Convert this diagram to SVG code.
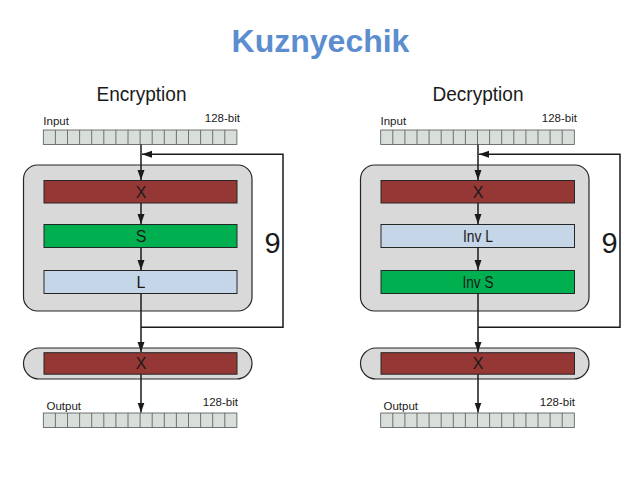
<svg xmlns="http://www.w3.org/2000/svg" xmlns:xlink="http://www.w3.org/1999/xlink" width="638" height="479" viewBox="0 0 638 479">
<style>
.t{font-family:"Liberation Sans",Arial,sans-serif;fill:#1a1a1a}
.title{font-family:"Liberation Sans",Arial,sans-serif;font-weight:bold;font-size:32px;fill:#5B8DCF}
.head{font-size:20px}
.small{font-size:11.5px}
.lbl{font-size:16px;text-anchor:middle}
.nine{font-size:29px;text-anchor:middle}
.outer{fill:#D9D9D9;stroke:#262626;stroke-width:1.2}
.xr{fill:#953735;stroke:#262626;stroke-width:1}
.sg{fill:#00B050;stroke:#262626;stroke-width:1}
.lb{fill:#C6D6E9;stroke:#262626;stroke-width:1}
.bar{fill:#D8DED9;stroke:#555;stroke-width:0.8}
.cell{fill:none;stroke:#555;stroke-width:0.8}
.c{fill:none;stroke:#1a1a1a;stroke-width:1.5}
</style>
<defs>
<marker id="ah" markerUnits="userSpaceOnUse" markerWidth="11" markerHeight="8" refX="10" refY="3.5" orient="auto">
<path d="M0,0 L10,3.5 L0,7 z" fill="#1a1a1a"/>
</marker>
<g id="bar">
<rect class="bar" x="0" y="0" width="193.6" height="14.5"/>
<path class="cell" d="M12.1,0v14.5M24.2,0v14.5M36.3,0v14.5M48.4,0v14.5M60.5,0v14.5M72.6,0v14.5M84.7,0v14.5M96.8,0v14.5M108.9,0v14.5M121,0v14.5M133.1,0v14.5M145.2,0v14.5M157.3,0v14.5M169.4,0v14.5M181.5,0v14.5"/>
</g>
</defs>
<text class="title" x="320.5" y="51.5" text-anchor="middle">Kuznyechik</text>

<g id="encryption">
<text class="t head" x="141.5" y="101" text-anchor="middle" textLength="90" lengthAdjust="spacingAndGlyphs">Encryption</text>
<g id="enc-input">
<text class="t small" x="43.3" y="125">Input</text>
<text class="t small" x="240" y="122" text-anchor="end">128-bit</text>
<use xlink:href="#bar" x="43.3" y="130"/>
</g>
<g id="enc-round"><rect class="outer" x="23.5" y="165" width="228.5" height="146" rx="14"/></g>
<g id="enc-x"><rect class="xr" x="44" y="180.5" width="193" height="22.5"/><text class="t lbl" x="141" y="198">X</text></g>
<g id="enc-s"><rect class="sg" x="44" y="224.5" width="193" height="23"/><text class="t lbl" x="141" y="242">S</text></g>
<g id="enc-l"><rect class="lb" x="44" y="270.5" width="193" height="23"/><text class="t lbl" x="141" y="288">L</text></g>
<g id="enc-final"><rect class="outer" x="23.5" y="348" width="228.5" height="31" rx="15.5"/><rect class="xr" x="44" y="352.7" width="193" height="21.5"/><text class="t lbl" x="141" y="369">X</text></g>
<g id="enc-output">
<text class="t small" x="46.5" y="410">Output</text>
<text class="t small" x="238" y="406" text-anchor="end">128-bit</text>
<use xlink:href="#bar" x="43.3" y="413"/>
</g>
<text class="t nine" x="272.5" y="253">9</text>
</g>

<g id="decryption">
<text class="t head" x="478" y="101" text-anchor="middle" textLength="91" lengthAdjust="spacingAndGlyphs">Decryption</text>
<g id="dec-input">
<text class="t small" x="380.5" y="125">Input</text>
<text class="t small" x="577" y="122" text-anchor="end">128-bit</text>
<use xlink:href="#bar" x="380.7" y="130"/>
</g>
<g id="dec-round"><rect class="outer" x="360.5" y="165" width="228.5" height="146" rx="14"/></g>
<g id="dec-x"><rect class="xr" x="381" y="180.5" width="193.5" height="22.5"/><text class="t lbl" x="478" y="198">X</text></g>
<g id="dec-invl"><rect class="lb" x="381" y="224.5" width="193.5" height="23"/><text class="t lbl" x="478" y="242" textLength="30" lengthAdjust="spacingAndGlyphs">Inv L</text></g>
<g id="dec-invs"><rect class="sg" x="381" y="270.5" width="193.5" height="23"/><text class="t lbl" x="478" y="288" textLength="31" lengthAdjust="spacingAndGlyphs">Inv S</text></g>
<g id="dec-final"><rect class="outer" x="360.5" y="348" width="228.5" height="31" rx="15.5"/><rect class="xr" x="381" y="352.7" width="193.5" height="21.5"/><text class="t lbl" x="478" y="369">X</text></g>
<g id="dec-output">
<text class="t small" x="383.5" y="410">Output</text>
<text class="t small" x="575" y="406" text-anchor="end">128-bit</text>
<use xlink:href="#bar" x="380.7" y="413"/>
</g>
<text class="t nine" x="609.5" y="253">9</text>
</g>

<g id="connectors">
<path class="c" d="M141,144.5V180" marker-end="url(#ah)"/>
<path class="c" d="M141,327.3H283V154.3H142" marker-end="url(#ah)"/>
<path class="c" d="M141,203V224" marker-end="url(#ah)"/>
<path class="c" d="M141,247.5V270" marker-end="url(#ah)"/>
<path class="c" d="M141,293.5V352" marker-end="url(#ah)"/>
<path class="c" d="M141,374.2V412.5" marker-end="url(#ah)"/>
<path class="c" d="M478,144.5V180" marker-end="url(#ah)"/>
<path class="c" d="M478,327.3H620V154.3H479" marker-end="url(#ah)"/>
<path class="c" d="M478,203V224" marker-end="url(#ah)"/>
<path class="c" d="M478,247.5V270" marker-end="url(#ah)"/>
<path class="c" d="M478,293.5V352" marker-end="url(#ah)"/>
<path class="c" d="M478,374.2V412.5" marker-end="url(#ah)"/>
</g>
</svg>
